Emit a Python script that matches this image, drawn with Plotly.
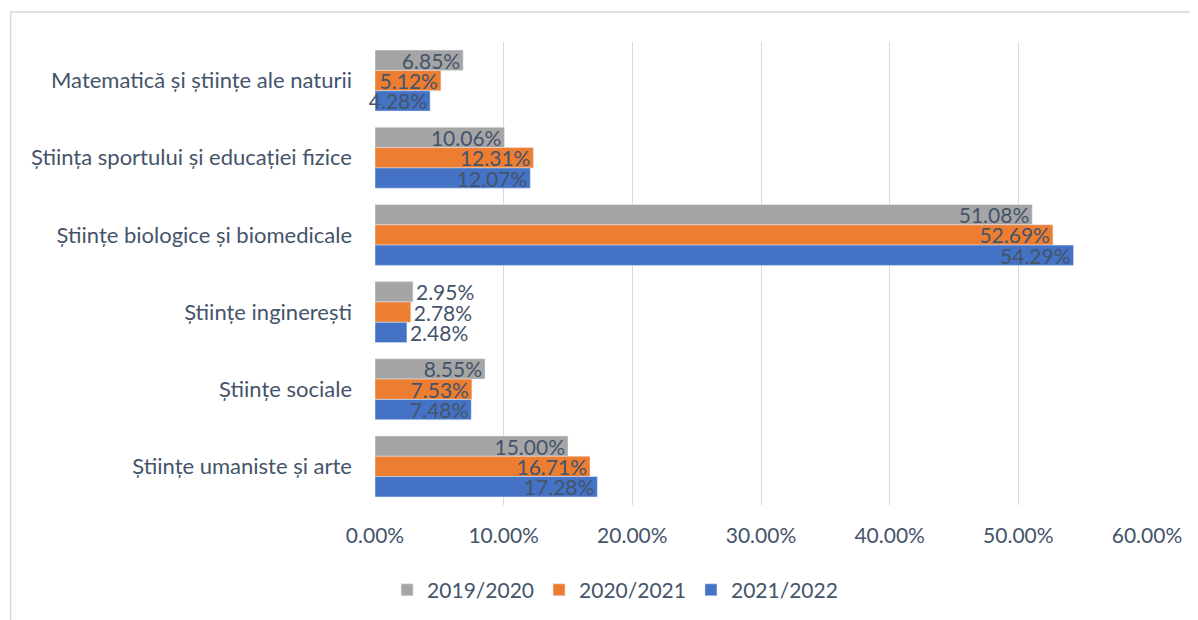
import plotly.graph_objects as go

categories = [
    "Matematică și științe ale naturii",
    "Știința sportului și educației fizice",
    "Științe biologice și biomedicale",
    "Științe inginerești",
    "Științe sociale",
    "Științe umaniste și arte",
]
years = ["2019/2020", "2020/2021", "2021/2022"]
v_2019 = [6.85, 10.06, 51.08, 2.95, 8.55, 15.00]
v_2020 = [5.12, 12.31, 52.69, 2.78, 7.53, 16.71]
v_2021 = [4.28, 12.07, 54.29, 2.48, 7.48, 17.28]
tick_vals = [0, 10, 20, 30, 40, 50, 60]

colors = ["#A5A5A5", "#ED7D31", "#4472C4"]
txt = "#44546A"
font = "Lato, 'Open Sans', sans-serif"

fig = go.Figure()
for name, vals, col in zip(years, [v_2019, v_2020, v_2021], colors):
    fig.add_trace(go.Bar(
        y=categories,
        x=vals,
        name=name,
        orientation="h",
        marker_color=col,
        text=[f"{v:.2f}%" for v in vals],
        # tiny bars: label spills past the bar end like the original
        textposition=["outside" if v < 3.5 else "inside" for v in vals],
        insidetextanchor="end",
        constraintext="none",
        textfont=dict(color=txt, size=21, family=font),
        cliponaxis=False,
    ))

fig.update_layout(
    barmode="group",
    bargap=0.21,
    bargroupgap=0,
    width=1198,
    height=620,
    # page body has an 8px margin, so shift the plot area back
    margin=dict(l=367, r=59, t=34, b=123),
    paper_bgcolor="white",
    plot_bgcolor="white",
    font=dict(family=font, color=txt, size=21),
    xaxis=dict(
        range=[0, 60],
        tickvals=tick_vals,
        ticktext=[f"{v:.2f}%" for v in tick_vals],
        showgrid=True,
        gridcolor="#D9D9D9",
        gridwidth=1,
        zeroline=False,
        showline=False,
        tickfont=dict(size=21, color=txt),
        ticklabelstandoff=16,
    ),
    yaxis=dict(
        autorange="reversed",
        showgrid=False,
        showline=False,
        ticks="",
        tickfont=dict(size=22, color=txt),
        ticklabelstandoff=22,
    ),
    legend=dict(
        orientation="h",
        x=0.311,
        xanchor="center",
        y=-0.184,
        yanchor="middle",
        font=dict(size=21, color=txt),
        itemwidth=30,
    ),
    shapes=[dict(
        type="rect", xref="paper", yref="paper",
        x0=-0.472, x1=1.08, y0=-0.3, y1=1.065,
        line=dict(color="#D9D9D9", width=1.5),
        layer="below",
    )],
)

fig.write_html("out.html")
